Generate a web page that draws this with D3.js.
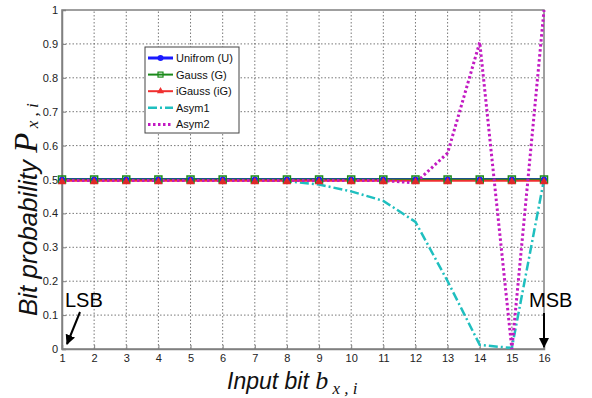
<!DOCTYPE html>
<html>
  <head>
    <title>Bit probability</title>
    <script src="https://d3js.org/d3.v7.min.js"></script>
    <style>
      body { margin: 0; background: #fff; }
      svg { display: block; }
    </style>
  </head>
  <body>
    <div id="chart"></div>
    <script>
// data
const bits = [1,2,3,4,5,6,7,8,9,10,11,12,13,14,15,16];
const uniform = [0.5,0.5,0.5,0.5,0.5,0.5,0.5,0.5,0.5,0.5,0.5,0.5,0.5,0.5,0.5,0.5];
const gauss = [0.5,0.5,0.5,0.5,0.5,0.5,0.5,0.5,0.5,0.5,0.5,0.5,0.5,0.5,0.5,0.5];
const igauss = [0.496,0.496,0.496,0.496,0.496,0.496,0.496,0.496,0.496,0.496,0.496,0.496,0.496,0.496,0.496,0.496];
const asym1 = [0.5,0.5,0.5,0.5,0.5,0.5,0.5,0.495,0.485,0.465,0.437,0.375,0.2,0.012,0.003,0.5];
const asym2 = [0.497,0.497,0.497,0.497,0.497,0.497,0.497,0.497,0.497,0.497,0.497,0.49,0.578,0.905,0.0,1.0];
const yTicks = [0,0.1,0.2,0.3,0.4,0.5,0.6,0.7,0.8,0.9,1];
const legendLabels = ["Unifrom (U)","Gauss (G)","iGauss (iG)","Asym1","Asym2"];

const width = 592, height = 398;
const marginLeft = 62, marginRight = 48, marginTop = 10, marginBottom = 49;

const svg = d3.select("#chart").append("svg")
  .attr("width", width)
  .attr("height", height)
  .attr("viewBox", [0, 0, width, height]);

const x = d3.scaleLinear().domain([1, 16]).range([marginLeft, width - marginRight]);
const y = d3.scaleLinear().domain([0, 1]).range([height - marginBottom, marginTop]);

const sans = "Arial, 'Liberation Sans', sans-serif";
const serif = "'Liberation Serif', 'Times New Roman', serif";

// grid
svg.append("g")
  .selectAll("line.vg")
  .data(bits.slice(1, -1))
  .join("line")
  .attr("x1", d => x(d)).attr("x2", d => x(d))
  .attr("y1", y(0)).attr("y2", y(1))
  .attr("stroke", "#555").attr("stroke-width", 0.8)
  .attr("stroke-dasharray", "1.5,2");
svg.append("g")
  .selectAll("line.hg")
  .data(yTicks.slice(1, -1))
  .join("line")
  .attr("x1", x(1)).attr("x2", x(16))
  .attr("y1", d => y(d)).attr("y2", d => y(d))
  .attr("stroke", "#555").attr("stroke-width", 0.8)
  .attr("stroke-dasharray", "1.5,2");

// frame
svg.append("rect")
  .attr("x", x(1)).attr("y", y(1))
  .attr("width", x(16) - x(1)).attr("height", y(0) - y(1))
  .attr("fill", "none").attr("stroke", "#808080").attr("stroke-width", 1.5);

// axes
const xAxis = svg.append("g")
  .attr("transform", `translate(0,${y(0)})`)
  .call(d3.axisBottom(x).tickValues(bits).tickFormat(d3.format("d")).tickSize(-4).tickPadding(5));
const yAxis = svg.append("g")
  .attr("transform", `translate(${x(1)},0)`)
  .call(d3.axisLeft(y).tickValues(yTicks).tickFormat(d => d === 0 || d === 1 ? d : d3.format(".1f")(d)).tickSize(-4).tickPadding(4));
[xAxis, yAxis].forEach(a => {
  a.select(".domain").attr("stroke", "#808080").attr("stroke-width", 1.5);
  a.selectAll(".tick line").attr("stroke", "#808080");
  a.selectAll(".tick text").attr("fill", "#222")
    .style("font-family", sans).style("font-size", "11px");
});

// lines
const line = d3.line().x((d, i) => x(bits[i])).y(d => y(d));
const series = [
  { vals: asym1, color: "#1fbfbf", w: 2.5, dash: "9,3,2,3" },
  { vals: uniform, color: "#1a1aff", w: 3, dash: null },
  { vals: gauss, color: "#1a8a1a", w: 2, dash: null },
  { vals: igauss, color: "#f03030", w: 2, dash: null },
  { vals: asym2, color: "#c21ac2", w: 3, dash: "2.5,2.5" }
];
series.forEach(s => {
  svg.append("path")
    .datum(s.vals)
    .attr("fill", "none")
    .attr("stroke", s.color)
    .attr("stroke-width", s.w)
    .attr("stroke-dasharray", s.dash)
    .attr("d", line);
});

// markers
svg.append("g").selectAll("circle").data(uniform).join("circle")
  .attr("cx", (d, i) => x(bits[i])).attr("cy", d => y(d)).attr("r", 3)
  .attr("fill", "#1a1aff");
svg.append("g").selectAll("rect").data(gauss).join("rect")
  .attr("x", (d, i) => x(bits[i]) - 3.5).attr("y", d => y(d) - 3.5)
  .attr("width", 7).attr("height", 7)
  .attr("fill", "none").attr("stroke", "#1a8a1a").attr("stroke-width", 1.5);
svg.append("g").selectAll("path").data(igauss).join("path")
  .attr("transform", (d, i) => `translate(${x(bits[i])},${y(d) + 1})`)
  .attr("d", d3.symbol(d3.symbolTriangle, 30))
  .attr("fill", "#e02828");

// legend
const lg = svg.append("g").attr("transform", "translate(145,47)");
lg.append("rect").attr("width", 94).attr("height", 86)
  .attr("fill", "#fff").attr("stroke", "#444").attr("stroke-width", 1);
series.slice(1, 4).concat([series[0], series[4]]).forEach((s, i) => {
  const yy = 11 + i * 16.6;
  lg.append("line").attr("x1", 3).attr("x2", 28).attr("y1", yy).attr("y2", yy)
    .attr("stroke", s.color).attr("stroke-width", s.w)
    .attr("stroke-dasharray", s.dash);
  if (i === 0) lg.append("circle").attr("cx", 15.5).attr("cy", yy).attr("r", 3).attr("fill", s.color);
  if (i === 1) lg.append("rect").attr("x", 13).attr("y", yy - 2.5).attr("width", 5).attr("height", 5)
    .attr("fill", "none").attr("stroke", s.color).attr("stroke-width", 1.2);
  if (i === 2) lg.append("path").attr("transform", `translate(15.5,${yy})`)
    .attr("d", d3.symbol(d3.symbolTriangle, 22)).attr("fill", s.color);
  lg.append("text").attr("x", 31).attr("y", yy + 4)
    .style("font-family", sans).style("font-size", "11px")
    .attr("fill", "#111")
    .text(legendLabels[i]);
});

// axis labels
const yl = svg.append("text")
  .attr("transform", `translate(37,316) rotate(-90)`)
  .attr("fill", "#111");
yl.append("tspan").style("font-family", sans)
  .style("font-size", "26px").style("font-style", "italic").text("Bit probability ");
yl.append("tspan").style("font-family", serif)
  .style("font-size", "33px").style("font-style", "italic").text("P");
yl.append("tspan").attr("dy", 1).style("font-family", serif)
  .style("font-size", "17px").style("font-style", "italic").text(" x , i");

const xl = svg.append("text")
  .attr("x", 227).attr("y", 389)
  .attr("fill", "#111");
xl.append("tspan").style("font-family", sans)
  .style("font-size", "23px").style("font-style", "italic").text("Input bit ");
xl.append("tspan").style("font-family", serif)
  .style("font-size", "26px").style("font-style", "italic").text("b");
xl.append("tspan").attr("dy", 5).style("font-family", serif)
  .style("font-size", "17px").style("font-style", "italic").text(" x , i");

// LSB / MSB annotations
svg.append("defs").append("marker")
  .attr("id", "ah").attr("viewBox", "0 0 10 10").attr("refX", 9).attr("refY", 5)
  .attr("markerWidth", 5).attr("markerHeight", 5).attr("orient", "auto")
  .append("path").attr("d", "M0,0L10,5L0,10z").attr("fill", "#000");

svg.append("text").attr("x", 65).attr("y", 307)
  .style("font-family", sans).style("font-size", "20px")
  .attr("fill", "#000").text("LSB");
svg.append("line").attr("x1", x(1) + 18).attr("y1", 312).attr("x2", x(1) + 5).attr("y2", y(0) - 5)
  .attr("stroke", "#000").attr("stroke-width", 2).attr("marker-end", "url(#ah)");

svg.append("text").attr("x", 529).attr("y", 307)
  .style("font-family", sans).style("font-size", "20px")
  .attr("fill", "#000").text("MSB");
svg.append("line").attr("x1", x(16)).attr("y1", 313).attr("x2", x(16)).attr("y2", y(0) - 2)
  .attr("stroke", "#000").attr("stroke-width", 2).attr("marker-end", "url(#ah)");
    </script>
  </body>
</html>
